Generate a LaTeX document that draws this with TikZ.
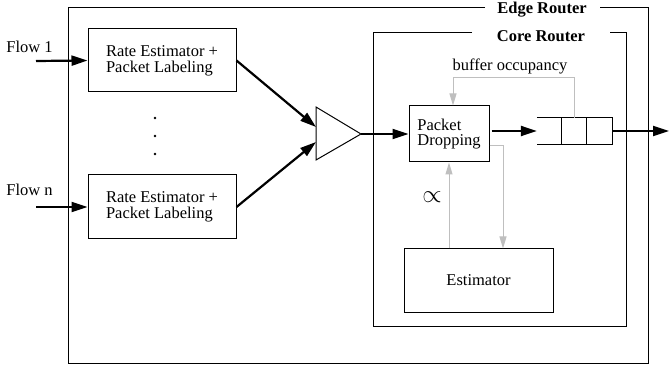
\documentclass[tikz,border=0pt]{standalone}
\usepackage{amsmath}
\usepackage{amssymb}
\usepackage{fontspec}
\setmainfont{Liberation Serif}
\usepackage{tikz}
\usetikzlibrary{arrows.meta}
\usepackage{xcolor}
\definecolor{feedgray}{gray}{0.75}

\begin{document}
\begin{tikzpicture}[x=1pt,y=-1pt,
    every node/.style={font=\fontsize{16.5}{15.7}\selectfont},
    block/.style={draw,line width=1pt,align=left,inner sep=0pt},
    flow/.style={line width=2.2pt,-{Triangle[length=16pt,width=10pt]}},
    feed/.style={draw=feedgray,line width=1pt,-{Triangle[length=12pt,width=7pt]}},
    frame/.style={line width=1pt}]
    \useasboundingbox (0,0) rectangle (669,371);

    % routers
    \draw[frame] (485,8) -- (68,8) -- (68,363) -- (648,363) -- (648,8) -- (600,8);
    \node[font=\fontsize{16.5}{15.7}\selectfont\bfseries] (edge) at (542,9.5) {Edge Router};
    \draw[frame] (472,33) -- (373,33) -- (373,326) -- (626,326) -- (626,33) -- (610,33);
    \node[font=\fontsize{16.5}{15.7}\selectfont\bfseries] (core) at (541,36) {Core Router};

    % labeling boxes
    \node[block,minimum width=148pt,minimum height=63pt] (rate1) at (162,60.5)
        {Rate Estimator +\\Packet Labeling};
    \node[block,minimum width=148pt,minimum height=64pt] (raten) at (162,207)
        {Rate Estimator +\\Packet Labeling};
    \foreach \y in {118,136,154} \fill (155,\y) circle (1.4pt);

    \node (flow1) at (29.5,47) {Flow 1};
    \node (flown) at (29.5,190) {Flow n};
    \coordinate (f1) at (36,61);
    \coordinate (fn) at (36,207);
    \draw[flow] (f1) -- (rate1.west);
    \draw[flow] (fn) -- (raten.west);

    % merger
    \coordinate (top) at (316,107);
    \coordinate (bot) at (316,160);
    \coordinate (mux) at (361,134);
    \coordinate (in1) at (316,127);
    \coordinate (in2) at (316,142);
    \draw[line width=1pt] (top) -- (mux) -- (bot) -- cycle;
    \draw[flow] (rate1.east) -- (in1);
    \draw[flow] (raten.east) -- (in2);

    % core router parts
    \node[block,minimum width=80pt,minimum height=56pt] (drop) at (449,134)
        {Packet\\Dropping};
    \node[block,minimum width=149pt,minimum height=63pt,align=center] (est) at (478.5,280.5)
        {Estimator};
    \node[minimum width=75pt,minimum height=26pt,inner sep=0pt] (queue) at (574.5,131) {};
    \draw[line width=1pt] (queue.north west) -- (queue.north east) -- (queue.south east)
        -- (queue.south west);
    \draw[line width=1pt] ([xshift=25pt]queue.north west) -- ([xshift=25pt]queue.south west);
    \draw[line width=1pt] ([xshift=50pt]queue.north west) -- ([xshift=50pt]queue.south west);
    \coordinate (out) at (669,131);

    \draw[flow] (mux) -- (drop.west |- mux);
    \draw[flow] ([xshift=2pt]drop.east |- queue.west) -- (queue.west);
    \draw[flow] (queue.east) -- (out);

    % feedback
    \draw[feed] (queue.north) -- ++(0,-40) -| ([xshift=4pt]drop.north);
    \node (occ) at (510,66) {buffer occupancy};
    \draw[feed] ([yshift=-12pt]drop.east) -| ([xshift=24.5pt]est.north);
    \draw[feed] (est.north -| drop.south) -- (drop.south);
    \node[font=\fontsize{24}{24}\selectfont] (prop) at (432,197) {$\propto$};
\end{tikzpicture}
\end{document}
